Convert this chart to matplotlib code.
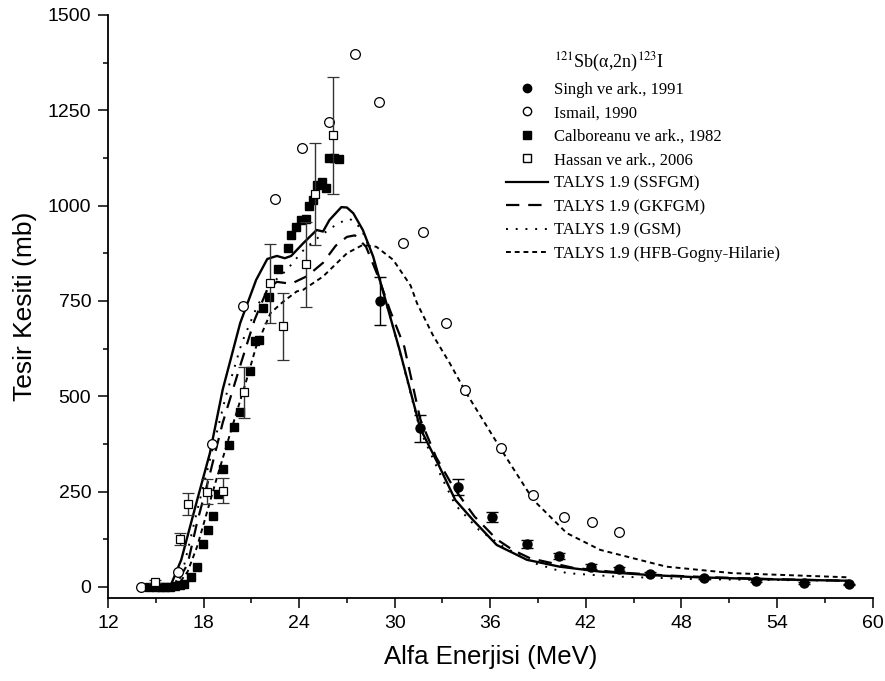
import numpy as np
import matplotlib
matplotlib.use("Agg")
import matplotlib.pyplot as plt
from matplotlib.lines import Line2D
from matplotlib.ticker import MultipleLocator

singh_e = [29.1, 31.6, 34.0, 36.1, 38.3, 40.3, 42.3, 44.1, 46.0, 49.4, 52.7, 55.7, 58.5]
singh_s = [750, 416, 263, 184, 112, 80, 53, 46, 34, 23, 16, 10, 7]
singh_err = [62, 35, 21, 13, 10, 8, 6, 5, 4, 3, 2, 2, 1]

ismail_e = [14.1, 16.4, 18.5, 20.5, 22.5, 24.2, 25.9, 27.5, 29.0, 30.5, 31.8,
            33.25, 34.4, 36.7, 38.7, 40.6, 42.4, 44.1]
ismail_s = [0, 39, 375, 737, 1017, 1151, 1220, 1397, 1272, 903, 931,
            691, 517, 364, 241, 182, 169, 143]

calb_e = [14.6, 15.0, 15.3, 15.6, 15.9, 16.2, 16.5, 16.8, 17.2, 17.6, 17.95, 18.25,
          18.6, 18.9, 19.2, 19.6, 19.9, 20.3, 20.9, 21.2, 21.5, 21.75, 22.1, 22.65,
          23.3, 23.5, 23.8, 24.1, 24.4, 24.6, 24.9, 25.1, 25.45, 25.7, 25.9, 26.2, 26.5]
calb_s = [0, 0, 0, 0, 0, 2, 4, 8, 25, 53, 113, 148,
          187, 244, 309, 371, 418, 459, 565, 646, 648, 732, 760, 834,
          890, 923, 945, 962, 965, 1000, 1015, 1054, 1063, 1046, 1126, 1126, 1122]

hassan_e = [14.95, 16.5, 17.0, 18.2, 19.2, 20.55, 22.2, 23.0, 24.4, 25.0, 26.15]
hassan_s = [14, 125, 217, 250, 252, 510, 796, 683, 846, 1030, 1184]
hassan_err = [5, 15, 28, 33, 33, 66, 104, 88, 111, 134, 154]

# --- TALYS 1.9 curves ---
ssfgm_e = [14.0, 15.9, 16.6, 17.6, 18.4, 19.2, 20.3, 21.3, 22.0, 22.6, 23.1, 23.5,
           24.25, 25.1, 25.5, 25.9, 26.65, 27.0, 27.4, 28.0, 28.65, 29.3, 30.3,
           31.6, 32.8, 33.8, 34.9, 36.4, 38.3, 40.35, 42.9, 46.0, 49.1, 53.3, 58.5]
ssfgm_s = [0, 0, 71, 228, 351, 517, 692, 805, 860, 868, 862, 868,
           901, 936, 932, 962, 996, 995, 980, 936, 866, 770, 622,
           416, 316, 228, 176, 110, 71, 53, 40, 31, 25, 20, 16]

gkfgm_e = [14.0, 16.2, 17.0, 17.6, 18.3, 19.2, 20.3, 21.2, 22.0, 22.6, 23.5, 24.5,
           25.5, 26.3, 27.0, 27.5, 28.2, 29.0, 29.7, 30.6, 31.6, 32.6, 33.7, 35.0,
           36.4, 37.4, 38.5, 41.2, 44.0, 47.0, 50.0, 54.0, 58.5]
gkfgm_s = [0, 0, 60, 170, 280, 430, 580, 700, 780, 800, 795, 815,
           850, 895, 918, 922, 892, 810, 726, 630, 440, 340, 260, 185,
           125, 97, 75, 50, 38, 30, 25, 20, 16]

gsm_e = [14.0, 16.1, 16.8, 17.6, 18.5, 19.4, 20.4, 21.4, 22.4, 23.2, 24.2, 25.0,
         25.8, 26.5, 27.2, 27.9, 28.6, 29.3, 30.3, 31.6, 32.8, 33.8, 35.3, 36.8,
         38.7, 40.8, 43.9, 49.1, 58.5]
gsm_s = [0, 0, 60, 200, 350, 500, 640, 740, 800, 830, 880, 910,
         935, 955, 965, 940, 870, 770, 620, 410, 300, 215, 149, 106,
         63, 36, 27, 20, 16]

hfb_e = [14.0, 16.3, 17.0, 17.6, 18.8, 19.8, 20.7, 21.3, 22.2, 23.0, 23.85, 24.25,
         25.5, 27.0, 28.0, 28.85, 29.9, 31.0, 31.4, 32.4, 33.45, 34.5, 36.7, 38.7,
         40.8, 42.9, 47.05, 51.2, 58.5]
hfb_s = [0, 0, 40, 106, 281, 420, 543, 630, 718, 748, 775, 779,
         814, 875, 897, 892, 858, 790, 744, 660, 587, 508, 359, 228,
         141, 97, 53, 36, 25]

legend_title = r'$^{121}$Sb(α,2n)$^{123}$I'
labels = ['Singh ve ark., 1991', 'Ismail, 1990', 'Calboreanu ve ark., 1982',
          'Hassan ve ark., 2006', 'TALYS 1.9 (SSFGM)', 'TALYS 1.9 (GKFGM)',
          'TALYS 1.9 (GSM)', 'TALYS 1.9 (HFB-Gogny-Hilarie)']

plt.rcParams['font.family'] = 'Liberation Sans'
plt.rcParams['mathtext.fontset'] = 'stix'

fig = plt.figure(figsize=(8.85, 6.81), dpi=100)
ax = fig.add_axes([0.122, 0.122, 0.864, 0.856])

# theory curves
ax.plot(ssfgm_e, ssfgm_s, '-', color='black', lw=1.7, zorder=2)
ax.plot(gkfgm_e, gkfgm_s, color='black', lw=1.6, ls=(0, (6, 4)), zorder=2)
ax.plot(gsm_e, gsm_s, color='black', lw=1.4, ls=(0, (1, 4)), zorder=2)
ax.plot(hfb_e, hfb_s, color='black', lw=1.4, ls=(0, (2.5, 2)), zorder=2)

# experimental points
ax.errorbar(singh_e, singh_s, yerr=singh_err, fmt='o', color='black', ms=6.5,
            capsize=4, elinewidth=1, capthick=1, zorder=4)
ax.plot(ismail_e, ismail_s, 'o', mfc='white', mec='black', ms=7, mew=0.9, zorder=4)
ax.plot(calb_e, calb_s, 's', color='black', ms=6, zorder=4)
ax.errorbar(hassan_e, hassan_s, yerr=hassan_err, fmt='s', mfc='white', mec='black',
            ecolor='#333333', ms=6, mew=0.9, capsize=4, elinewidth=1, capthick=1, zorder=5)

ax.set_xlim(12, 60)
ax.set_ylim(-29, 1500)
ax.xaxis.set_major_locator(MultipleLocator(6))
ax.xaxis.set_minor_locator(MultipleLocator(3))
ax.yaxis.set_major_locator(MultipleLocator(250))
ax.yaxis.set_minor_locator(MultipleLocator(125))
ax.tick_params(which='major', direction='out', length=7, width=1.1, labelsize=14, pad=5)
ax.tick_params(which='minor', direction='out', length=3.5, width=1.1)
ax.spines['top'].set_visible(False)
ax.spines['right'].set_visible(False)
for s in ('left', 'bottom'):
    ax.spines[s].set_linewidth(1.3)

ax.set_xlabel('Alfa Enerjisi (MeV)', fontsize=18.5, labelpad=10)
ax.set_ylabel('Tesir Kesiti (mb)', fontsize=19, labelpad=8)

handles = [
    Line2D([], [], ls='none'),
    Line2D([], [], ls='none', marker='o', color='black', ms=6),
    Line2D([], [], ls='none', marker='o', mfc='white', mec='black', ms=6),
    Line2D([], [], ls='none', marker='s', color='black', ms=5.5),
    Line2D([], [], ls='none', marker='s', mfc='white', mec='black', ms=5.5),
    Line2D([], [], color='black', lw=1.6),
    Line2D([], [], color='black', lw=1.6, ls=(0, (6, 4))),
    Line2D([], [], color='black', lw=1.4, ls=(0, (1, 4))),
    Line2D([], [], color='black', lw=1.4, ls=(0, (2.5, 2))),
]
leg = ax.legend(handles, [legend_title] + labels, loc='upper left',
                bbox_to_anchor=(0.572, 0.925), bbox_transform=fig.transFigure,
                frameon=False, handlelength=2.5, handletextpad=0.35,
                labelspacing=0.45, borderpad=0, borderaxespad=0,
                prop={'family': 'Liberation Serif', 'size': 12})
leg.get_texts()[0].set_fontsize(13)

fig.savefig('out.png', dpi=100)
